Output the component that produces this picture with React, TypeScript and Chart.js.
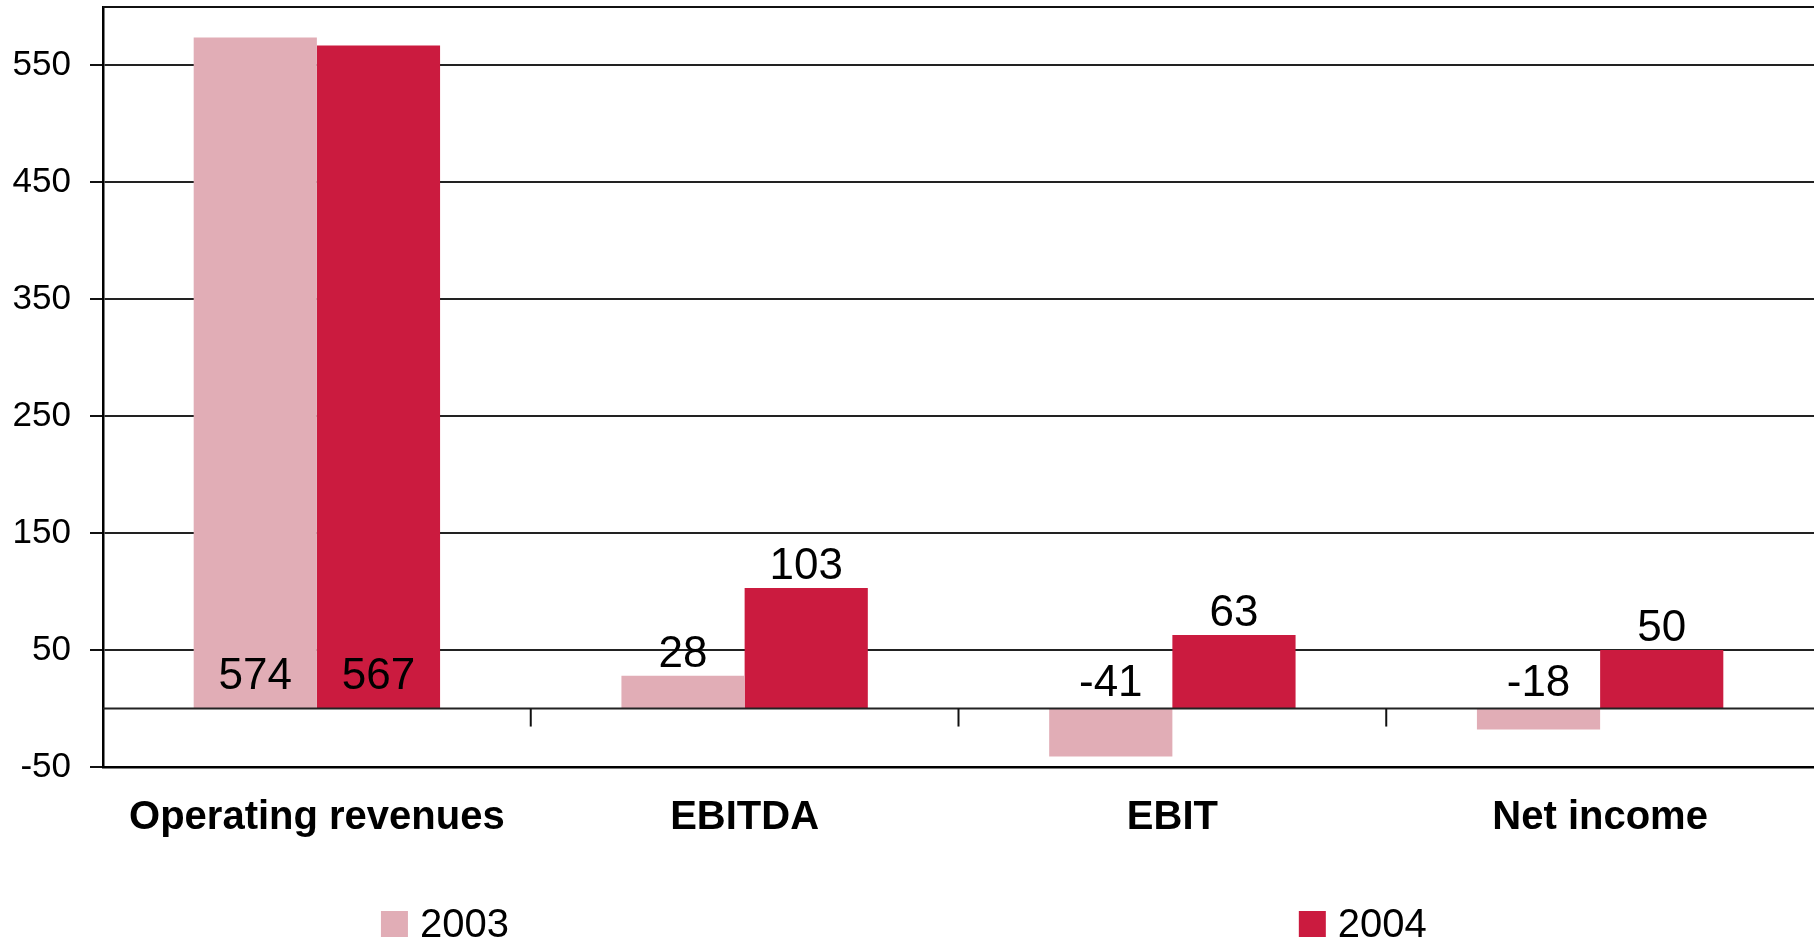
import React, { useEffect, useRef } from "react";
import { Chart, registerables } from "chart.js";

Chart.register(...registerables);

const categories = ["Operating revenues", "EBITDA", "EBIT", "Net income"];
const seriesNames = ["2003", "2004"];
const values2003 = [574, 28, -41, -18];
const values2004 = [567, 103, 63, 50];
const yTickValues = [-50, 50, 150, 250, 350, 450, 550];
const yMin = -50;
const yMax = 600;

const COLOR_2003 = "#E1ADB6";
const COLOR_2004 = "#CB1B3F";
const FONT = "'Liberation Sans', Arial, sans-serif";

const overlayPlugin = {
  id: "overlay",
  afterDatasetsDraw(chart: any) {
    const { ctx, chartArea } = chart;
    const x = chart.scales.x;
    const y = chart.scales.y;
    const zeroY = y.getPixelForValue(0);
    ctx.save();
    // top frame line
    ctx.strokeStyle = "#111";
    ctx.lineWidth = 2;
    ctx.beginPath();
    ctx.moveTo(chartArea.left, chartArea.top);
    ctx.lineTo(chartArea.right, chartArea.top);
    ctx.stroke();
    // zero line
    ctx.strokeStyle = "#222";
    ctx.lineWidth = 2;
    ctx.beginPath();
    ctx.moveTo(chartArea.left, zeroY);
    ctx.lineTo(chartArea.right, zeroY);
    ctx.stroke();
    // category separators on zero line
    ctx.strokeStyle = "#111";
    ctx.lineWidth = 2;
    for (let i = 0; i < categories.length - 1; i++) {
      const sx = (x.getPixelForValue(i) + x.getPixelForValue(i + 1)) / 2;
      ctx.beginPath();
      ctx.moveTo(sx, zeroY);
      ctx.lineTo(sx, zeroY + 18);
      ctx.stroke();
    }
    // data labels
    ctx.fillStyle = "#000";
    ctx.font = `44px ${FONT}`;
    ctx.textAlign = "center";
    ctx.textBaseline = "alphabetic";
    chart.data.datasets.forEach((ds: any, di: number) => {
      const meta = chart.getDatasetMeta(di);
      meta.data.forEach((bar: any, i: number) => {
        const v = ds.data[i];
        let by: number;
        if (v >= 0) {
          by = bar.y - 9;
          if (by - 34 < chartArea.top) by = zeroY - 20;
        } else {
          by = zeroY - 13;
        }
        ctx.fillText(String(v), bar.x, by);
      });
    });
    ctx.restore();
  },
  afterDraw(chart: any) {
    const { ctx, width, height } = chart;
    const positions = [0.21, 0.716];
    ctx.save();
    ctx.font = `40px ${FONT}`;
    ctx.textAlign = "left";
    ctx.textBaseline = "middle";
    chart.data.datasets.forEach((ds: any, i: number) => {
      const lx = width * positions[i];
      const cy = height - 18;
      ctx.fillStyle = ds.backgroundColor;
      ctx.fillRect(lx, cy - 13, 27, 26);
      ctx.fillStyle = "#000";
      ctx.fillText(ds.label, lx + 39, cy + 2);
    });
    ctx.restore();
  },
};

export default function App() {
  const ref = useRef<HTMLCanvasElement>(null);
  useEffect(() => {
    if (!ref.current) return;
    const chart = new Chart(ref.current, {
      type: "bar",
      data: {
        labels: categories,
        datasets: [
          { label: seriesNames[0], data: values2003, backgroundColor: COLOR_2003, categoryPercentage: 0.576, barPercentage: 1.0 },
          { label: seriesNames[1], data: values2004, backgroundColor: COLOR_2004, categoryPercentage: 0.576, barPercentage: 1.0 },
        ],
      },
      options: {
        responsive: false,
        animation: false,
        layout: { padding: { top: 7, right: 0, left: 0, bottom: 0 } },
        plugins: {
          legend: { display: false },
          tooltip: { enabled: false },
        },
        scales: {
          x: {
            grid: { display: false, drawTicks: false },
            border: { display: true, color: "#000", width: 2.5 },
            ticks: {
              color: "#000",
              padding: 27,
              maxRotation: 0,
              font: { family: FONT, size: 40, weight: "bold" },
            },
            afterFit(scale: any) {
              scale.height = 175;
              scale.paddingLeft = 0;
              scale.paddingRight = 0;
            },
          },
          y: {
            min: yMin,
            max: yMax,
            afterBuildTicks(scale: any) {
              scale.ticks = yTickValues.map((v) => ({ value: v }));
            },
            grid: {
              color: "#222",
              lineWidth: 2,
              tickLength: 13,
              tickColor: "#111",
              tickWidth: 2,
            },
            border: { display: true, color: "#000", width: 2.5 },
            ticks: {
              color: "#000",
              padding: 19,
              font: { family: FONT, size: 35 },
            },
            afterFit(scale: any) {
              scale.width = 103;
              scale.paddingTop = 0;
              scale.paddingBottom = 0;
            },
          },
        },
      },
      plugins: [overlayPlugin],
    });
    return () => chart.destroy();
  }, []);
  return (
    <canvas
      ref={ref}
      width={1814}
      height={942}
      style={{ position: "fixed", left: 0, top: 0, display: "block", background: "#fff" }}
    />
  );
}
